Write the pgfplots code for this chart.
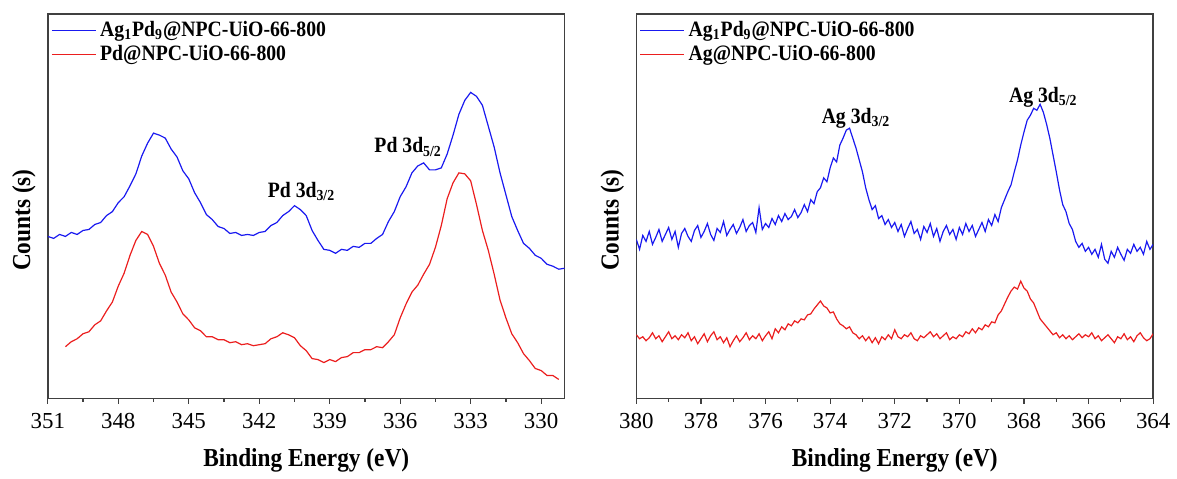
\documentclass[border=0pt]{standalone}
\usepackage{fontspec}
\setmainfont{Liberation Serif}
\newfontfamily\condfont{Liberation Serif}[FakeStretch=0.9]
\usepackage{pgfplots}
\pgfplotsset{compat=1.18}
\usetikzlibrary{calc}
\definecolor{specblue}{RGB}{25,25,240}
\definecolor{specred}{RGB}{235,30,30}

\tikzset{peak/.style={font=\condfont\fontsize{11}{13}\selectfont\bfseries}}
\pgfplotsset{
  xps/.style={
    scale only axis,
    width=259.5pt, height=193pt,
    x dir=reverse,
    ymin=0, ymax=387,
    ytick=\empty,
    xtick pos=left,
    tick align=outside,
    minor x tick num=1,
    major tick length=2.6pt,
    minor tick length=1.6pt,
    axis line style={black!75, line width=0.75pt},
    every tick/.style={black!75, line width=0.6pt},
    /pgf/number format/assume math mode=true,
    /pgf/number format/.cd, 1000 sep={}, /pgfplots/.cd,
    tick label style={font=\fontsize{11.5}{13}\selectfont},
    xticklabel style={yshift=-1.5pt},
    xlabel={\textbf{Binding Energy (eV)}},
    ylabel={\textbf{Counts (s)}},
    label style={font=\condfont\fontsize{13}{15}\selectfont},
    xlabel style={yshift=-3pt},
    ylabel style={yshift=0pt, xshift=-7pt},
    legend style={at={(0,1)}, anchor=north west, draw=none, fill=none,
      font=\condfont\fontsize{11}{12}\selectfont\bfseries, row sep=-1.2pt,
      inner xsep=1.5pt, inner ysep=1.5pt},
    legend cell align=left,
    legend image code/.code={\draw[#1] plot coordinates {(0pt,0pt) (11pt,0pt) (22pt,0pt)};},
    every axis plot/.append style={line width=0.6pt},
  }
}

\begin{document}
\begin{tikzpicture}
  % left: Pd 3d
  \begin{axis}[xps, name=ax1,
      xmin=329, xmax=351,
      xtick={330,333,336,339,342,345,348,351}]
    \addplot[specblue] table {
      351.00 163
      350.75 161
      350.50 165
      350.25 163
      350.00 167
      349.75 165
      349.50 169
      349.25 170
      349.00 175
      348.75 177
      348.50 184
      348.25 188
      348.00 197
      347.75 203
      347.50 214
      347.25 226
      347.00 244
      346.75 257
      346.50 267
      346.25 265
      346.00 262
      345.75 251
      345.50 243
      345.25 229
      345.00 221
      344.75 207
      344.50 197
      344.25 185
      344.00 180
      343.75 173
      343.50 171
      343.25 166
      343.00 167
      342.75 164
      342.50 165
      342.25 164
      342.00 167
      341.75 168
      341.50 174
      341.25 177
      341.00 184
      340.75 188
      340.50 194
      340.25 190
      340.00 184
      339.75 169
      339.50 159
      339.25 150
      339.00 149
      338.75 146
      338.50 150
      338.25 149
      338.00 153
      337.75 152
      337.50 156
      337.25 156
      337.00 161
      336.75 165
      336.50 178
      336.25 188
      336.00 203
      335.75 213
      335.50 227
      335.25 234
      335.00 237
      334.75 230
      334.50 230
      334.25 232
      334.00 246
      333.75 265
      333.50 286
      333.25 300
      333.00 308
      332.75 304
      332.50 295
      332.25 274
      332.00 253
      331.75 227
      331.50 205
      331.25 183
      331.00 169
      330.75 156
      330.50 151
      330.25 144
      330.00 141
      329.75 135
      329.50 133
      329.25 130
      329.00 131
    };
    \addlegendentry{Ag\textsubscript{1}Pd\textsubscript{9}@NPC-UiO-66-800}
    \addplot[specred] table {
      350.25 52
      350.00 57
      349.75 60
      349.50 65
      349.25 67
      349.00 74
      348.75 78
      348.50 88
      348.25 97
      348.00 113
      347.75 126
      347.50 144
      347.25 159
      347.00 168
      346.75 165
      346.50 153
      346.25 136
      346.00 124
      345.75 107
      345.50 97
      345.25 85
      345.00 79
      344.75 71
      344.50 68
      344.25 62
      344.00 62
      343.75 59
      343.50 59
      343.25 56
      343.00 57
      342.75 54
      342.50 55
      342.25 53
      342.00 54
      341.75 55
      341.50 60
      341.25 62
      341.00 66
      340.75 64
      340.50 61
      340.25 53
      340.00 48
      339.75 40
      339.50 39
      339.25 36
      339.00 39
      338.75 37
      338.50 41
      338.25 42
      338.00 46
      337.75 46
      337.50 49
      337.25 49
      337.00 52
      336.75 51
      336.50 57
      336.25 64
      336.00 81
      335.75 95
      335.50 107
      335.25 114
      335.00 125
      334.75 135
      334.50 152
      334.25 174
      334.00 201
      333.75 217
      333.50 227
      333.25 226
      333.00 219
      332.75 195
      332.50 169
      332.25 149
      332.00 125
      331.75 99
      331.50 81
      331.25 65
      331.00 56
      330.75 45
      330.50 38
      330.25 30
      330.00 28
      329.75 23
      329.50 23
      329.25 19
    };
    \addlegendentry{Pd@NPC-UiO-66-800}
    \node[peak] at (axis cs:340.2,208) {Pd 3d\textsubscript{3/2}};
    \node[peak] at (axis cs:335.66,253) {Pd 3d\textsubscript{5/2}};
  \end{axis}

  % right: Ag 3d
  \begin{axis}[xps, name=ax2,
      at={($(ax1.south east)+(36pt,0)$)}, anchor=south west,
      xmin=364, xmax=380,
      xtick={364,366,...,380}]
    \addplot[specblue] table {
      380.0 160
      379.9 150
      379.8 164
      379.7 158
      379.6 168
      379.5 155
      379.4 162
      379.3 170
      379.2 158
      379.1 165
      379.0 172
      378.9 160
      378.8 168
      378.7 152
      378.6 166
      378.5 171
      378.4 163
      378.3 158
      378.2 169
      378.1 174
      378.0 162
      377.9 168
      377.8 176
      377.7 165
      377.6 159
      377.5 171
      377.4 167
      377.3 178
      377.2 164
      377.1 170
      377.0 175
      376.9 166
      376.8 172
      376.7 180
      376.6 168
      376.5 174
      376.4 177
      376.3 167
      376.2 192
      376.1 170
      376.0 176
      375.9 172
      375.8 181
      375.7 175
      375.6 184
      375.5 178
      375.4 186
      375.3 180
      375.2 183
      375.1 190
      375.0 182
      374.9 187
      374.8 195
      374.7 188
      374.6 200
      374.5 196
      374.4 208
      374.3 212
      374.2 222
      374.1 218
      374.0 232
      373.9 242
      373.8 238
      373.7 255
      373.6 262
      373.5 270
      373.4 272
      373.3 262
      373.2 252
      373.1 240
      373.0 228
      372.9 212
      372.8 200
      372.7 190
      372.6 194
      372.5 181
      372.4 184
      372.3 175
      372.2 180
      372.1 172
      372.0 177
      371.9 168
      371.8 175
      371.7 163
      371.6 171
      371.5 178
      371.4 166
      371.3 170
      371.2 160
      371.1 173
      371.0 167
      370.9 176
      370.8 163
      370.7 171
      370.6 158
      370.5 168
      370.4 174
      370.3 165
      370.2 170
      370.1 160
      370.0 172
      369.9 165
      369.8 176
      369.7 168
      369.6 174
      369.5 163
      369.4 170
      369.3 177
      369.2 168
      369.1 180
      369.0 174
      368.9 185
      368.8 178
      368.7 192
      368.6 200
      368.5 208
      368.4 215
      368.3 228
      368.2 240
      368.1 255
      368.0 268
      367.9 280
      367.8 285
      367.7 292
      367.6 290
      367.5 296
      367.4 288
      367.3 276
      367.2 262
      367.1 245
      367.0 228
      366.9 210
      366.8 195
      366.7 188
      366.6 176
      366.5 170
      366.4 158
      366.3 152
      366.2 156
      366.1 148
      366.0 152
      365.9 145
      365.8 150
      365.7 142
      365.6 155
      365.5 140
      365.4 136
      365.3 148
      365.2 142
      365.1 152
      365.0 145
      364.9 139
      364.8 150
      364.7 146
      364.6 155
      364.5 148
      364.4 152
      364.3 145
      364.2 158
      364.1 150
      364.0 155
    };
    \addlegendentry{Ag\textsubscript{1}Pd\textsubscript{9}@NPC-UiO-66-800}
    \addplot[specred] table {
      380.0 64
      379.9 60
      379.8 62
      379.7 58
      379.6 61
      379.5 66
      379.4 60
      379.3 63
      379.2 57
      379.1 62
      379.0 67
      378.9 60
      378.8 63
      378.7 59
      378.6 64
      378.5 61
      378.4 66
      378.3 58
      378.2 62
      378.1 55
      378.0 60
      377.9 65
      377.8 57
      377.7 63
      377.6 67
      377.5 59
      377.4 62
      377.3 56
      377.2 61
      377.1 52
      377.0 58
      376.9 63
      376.8 57
      376.7 61
      376.6 66
      376.5 59
      376.4 63
      376.3 60
      376.2 65
      376.1 58
      376.0 63
      375.9 67
      375.8 60
      375.7 70
      375.6 66
      375.5 72
      375.4 69
      375.3 75
      375.2 73
      375.1 78
      375.0 76
      374.9 80
      374.8 79
      374.7 84
      374.6 85
      374.5 90
      374.4 94
      374.3 98
      374.2 93
      374.1 91
      374.0 86
      373.9 87
      373.8 80
      373.7 75
      373.6 73
      373.5 70
      373.4 72
      373.3 66
      373.2 64
      373.1 60
      373.0 63
      372.9 58
      372.8 62
      372.7 56
      372.6 61
      372.5 55
      372.4 62
      372.3 59
      372.2 64
      372.1 60
      372.0 69
      371.9 62
      371.8 60
      371.7 64
      371.6 62
      371.5 66
      371.4 60
      371.3 58
      371.2 63
      371.1 61
      371.0 64
      370.9 67
      370.8 62
      370.7 65
      370.6 60
      370.5 63
      370.4 66
      370.3 59
      370.2 62
      370.1 60
      370.0 64
      369.9 62
      369.8 67
      369.7 65
      369.6 70
      369.5 66
      369.4 71
      369.3 69
      369.2 74
      369.1 72
      369.0 77
      368.9 76
      368.8 84
      368.7 88
      368.6 95
      368.5 102
      368.4 108
      368.3 112
      368.2 110
      368.1 118
      368.0 111
      367.9 108
      367.8 100
      367.7 96
      367.6 88
      367.5 80
      367.4 76
      367.3 72
      367.2 68
      367.1 64
      367.0 66
      366.9 61
      366.8 64
      366.7 60
      366.6 63
      366.5 59
      366.4 62
      366.3 65
      366.2 61
      366.1 64
      366.0 62
      365.9 66
      365.8 60
      365.7 63
      365.6 58
      365.5 61
      365.4 64
      365.3 60
      365.2 56
      365.1 62
      365.0 60
      364.9 65
      364.8 59
      364.7 62
      364.6 57
      364.5 63
      364.4 66
      364.3 61
      364.2 58
      364.1 60
      364.0 65
    };
    \addlegendentry{Ag@NPC-UiO-66-800}
    \node[peak] at (axis cs:373.2,282) {Ag 3d\textsubscript{3/2}};
    \node[peak] at (axis cs:367.4,303) {Ag 3d\textsubscript{5/2}};
  \end{axis}
  \path ($(ax1.south west)+(-24pt,-39pt)$) rectangle ($(ax1.south west)+(564.5pt,200pt)$);
\end{tikzpicture}
\end{document}
